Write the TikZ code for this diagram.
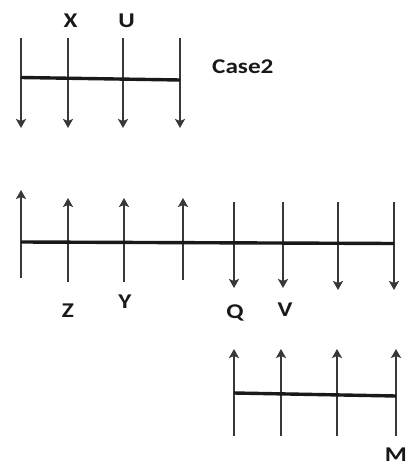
\documentclass[tikz,border=0pt]{standalone}
\usepackage{fontspec}
\setmainfont{Carlito}
\usetikzlibrary{arrows.meta}
\tikzset{
  force/.style={draw=black!78, line width=1.8pt, -{Stealth[width=10pt,length=9pt,inset=2pt]}},
  beam/.style={draw=black!90, line width=3.4pt},
  lbl/.style={inner sep=0pt, font=\bfseries\fontsize{21}{22}\selectfont, text=black!90},
}
\newcommand{\wlbl}[1]{\scalebox{1.2}[1]{#1}}
\begin{document}
\begin{tikzpicture}[x=1pt,y=-1pt]
\useasboundingbox (0,0) rectangle (409,470);
\fill[white] (0,0) rectangle (409,470);
% top group (downward)
\foreach \x in {21,68,123,180} {
  \draw[force] (\x,38) -- (\x,128);
}
\draw[beam] (21,77.5) -- (180,80);
\node[lbl] (X) at (70.5,21) {\wlbl{X}};
\node[lbl] (U) at (126.5,21) {\wlbl{U}};
\node[lbl, anchor=west] (case) at (212,67) {\wlbl{Case2}};
% middle group
\draw[force] (21,278) -- (21,190);
\foreach \x in {68,124} { \draw[force] (\x,282) -- (\x,198); }
\draw[force] (183,280) -- (183,198);
\foreach \x in {234,283} { \draw[force] (\x,202) -- (\x,288); }
\foreach \x in {338,394} { \draw[force] (\x,202) -- (\x,290); }
\draw[beam] (21,242) -- (394,243.5);
\node[lbl] (Z) at (68,311) {\wlbl{Z}};
\node[lbl] (Y) at (125,302) {\wlbl{Y}};
\node[lbl] (Q) at (235,313) {\wlbl{Q}};
\node[lbl] (V) at (285,310) {\wlbl{V}};
% bottom group (upward)
\foreach \x in {234,281,337,396} { \draw[force] (\x,436) -- (\x,349); }
\draw[beam] (234,393) -- (396,396);
\node[lbl] (M) at (396,455) {\wlbl{M}};
\end{tikzpicture}
\end{document}
